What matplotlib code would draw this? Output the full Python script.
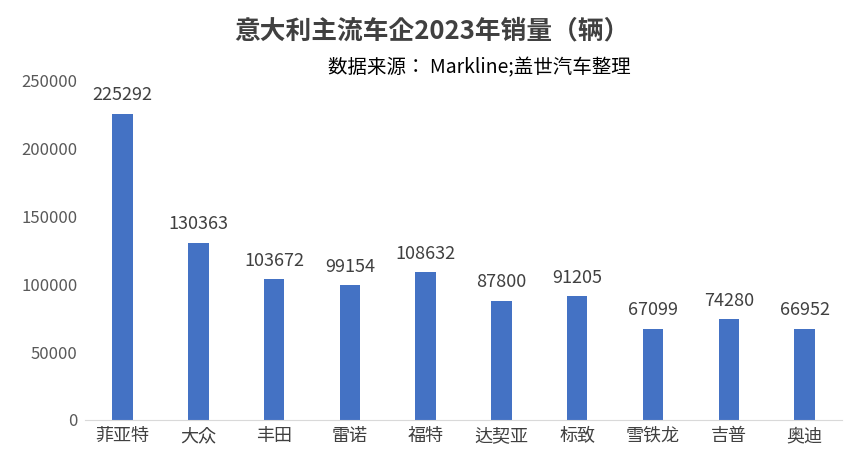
import matplotlib
matplotlib.use("Agg")
import matplotlib.pyplot as plt
from matplotlib import font_manager as fm

names = sorted({f.name for f in fm.fontManager.ttflist if "CJK" in f.name})
fam = None
for pref in ["Noto Sans CJK SC", "Noto Sans CJK JP", "Noto Sans CJK TC", "Noto Sans CJK KR"]:
    if pref in names:
        fam = pref
        break
if fam is None:
    import glob
    for f in glob.glob("/usr/share/fonts/**/*CJK*", recursive=True):
        fm.fontManager.addfont(f)
    names = sorted({f.name for f in fm.fontManager.ttflist if "CJK" in f.name})
    fam = names[0] if names else "DejaVu Sans"
plt.rcParams["font.family"] = [fam, "DejaVu Sans"]

categories = ["菲亚特", "大众", "丰田", "雷诺", "福特", "达契亚", "标致", "雪铁龙", "吉普", "奥迪"]
values = [225292, 130363, 103672, 99154, 108632, 87800, 91205, 67099, 74280, 66952]
yticks = [0, 50000, 100000, 150000, 200000, 250000]

fig = plt.figure(figsize=(8.64, 4.69), dpi=100)
ax = fig.add_axes([0.098, 0.1045, 0.877, 0.7245])
x = range(len(categories))
ax.bar(x, values, width=0.27, color="#4472C4")
for i, v in zip(x, values):
    ax.text(i, v + 7000, str(v), ha="center", va="bottom", fontsize=13, color="#404040")
ax.set_xlim(-0.5, len(categories) - 0.5)
ax.set_ylim(0, 250000)
ax.set_yticks(yticks)
ax.set_yticklabels([str(t) for t in yticks], fontsize=12, color="#595959")
ax.set_xticks(list(x))
ax.set_xticklabels(categories, fontsize=13, color="#404040")
for s in ["top", "right", "left"]:
    ax.spines[s].set_visible(False)
ax.spines["bottom"].set_color("#D9D9D9")
ax.tick_params(length=0, pad=5)
fig.text(0.5, 0.935, "意大利主流车企2023年销量（辆）", ha="center", va="center",
         fontsize=18.5, fontweight="bold", color="#404040")
fig.text(0.38, 0.855, "数据来源： Markline;盖世汽车整理", ha="left", va="center",
         fontsize=14, color="#000000")
fig.savefig("out.png", dpi=100)
